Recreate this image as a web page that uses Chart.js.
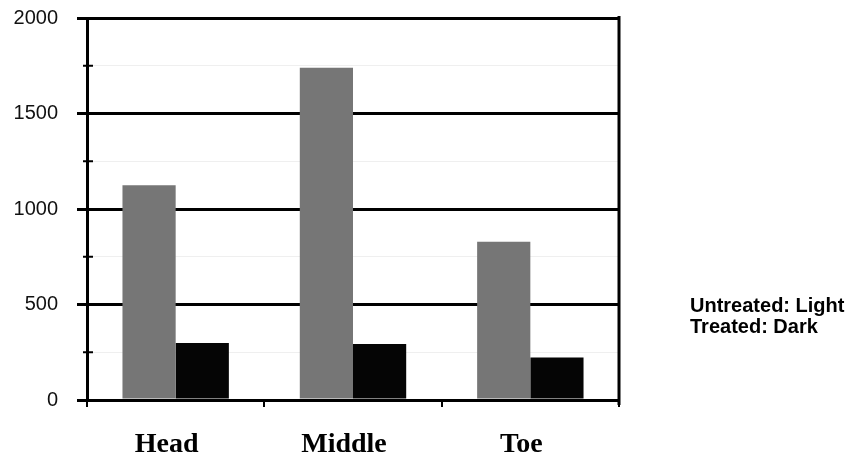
<!DOCTYPE html>
<html>
<head>
<meta charset="utf-8">
<script src="https://cdn.jsdelivr.net/npm/chart.js@4"></script>
<style>
  html, body { margin: 0; padding: 0; background: #fff; }
  #wrap { position: relative; width: 859px; height: 463px; }
  #legendText {
    position: absolute; left: 690px; top: 295px;
    font: bold 20px "Liberation Sans", Arial, sans-serif;
    line-height: 21px; color: #000; white-space: nowrap;
  }
</style>
</head>
<body>
<div id="wrap">
  <canvas id="c" width="859" height="463"></canvas>
  <div id="legendText"></div>
</div>
<script>
const categories = ['Head', 'Middle', 'Toe'];
const untreated = [1125, 1740, 828];
const treated = [298, 293, 222];
const yTickLabels = [0, 500, 1000, 1500, 2000];
const seriesNames = ['Untreated', 'Treated'];
const seriesShades = ['Light', 'Dark'];

document.getElementById('legendText').innerHTML =
  seriesNames.map((n, i) => n + ': ' + seriesShades[i]).join('<br>');

const isMajor = v => yTickLabels.includes(v);

const framePlugin = {
  id: 'frame',
  afterDraw(chart) {
    const { ctx, chartArea, scales } = chart;
    const y = scales.y;
    ctx.save();
    ctx.strokeStyle = '#000';
    ctx.lineWidth = 3;
    ctx.beginPath();
    ctx.moveTo(chartArea.right, chartArea.top - 2);
    ctx.lineTo(chartArea.right, chartArea.bottom + 5);
    ctx.stroke();
    ctx.lineWidth = 2;
    y.ticks.forEach(t => {
      if (!isMajor(t.value)) {
        const py = y.getPixelForValue(t.value);
        ctx.beginPath();
        ctx.moveTo(chartArea.left - 4, py);
        ctx.lineTo(chartArea.left + 6, py);
        ctx.stroke();
      }
    });
    ctx.restore();
  }
};

new Chart(document.getElementById('c'), {
  type: 'bar',
  data: {
    labels: categories,
    datasets: [
      { label: seriesNames[0], data: untreated, backgroundColor: '#767676', borderWidth: 0 },
      { label: seriesNames[1], data: treated, backgroundColor: '#050505', borderWidth: 0 }
    ]
  },
  options: {
    responsive: false,
    devicePixelRatio: 1,
    animation: false,
    datasets: { bar: { barPercentage: 1.0, categoryPercentage: 0.6 } },
    layout: { padding: { left: 13, right: 240, top: 18, bottom: 0 } },
    plugins: { legend: { display: false }, tooltip: { enabled: false } },
    scales: {
      x: {
        offset: true,
        afterFit(scale) { scale.height = 63; },
        grid: { offset: true, drawOnChartArea: false, color: '#000', lineWidth: 2, tickLength: 7 },
        border: { display: true, color: '#000', width: 3 },
        ticks: {
          color: '#000', labelOffset: -9, padding: 21,
          font: { family: '"Liberation Serif", "Times New Roman", serif', size: 28, weight: 'bold' }
        }
      },
      y: {
        min: 0, max: 2000,
        afterFit(scale) { scale.width = 74; scale.paddingTop = 0; scale.paddingBottom = 0; },
        afterBuildTicks(scale) {
          const t = [];
          for (let v = 0; v <= 2000; v += 250) t.push({ value: v });
          scale.ticks = t;
        },
        grid: {
          color: c => isMajor(c.tick.value) ? '#000' : '#efefef',
          lineWidth: c => isMajor(c.tick.value) ? 3 : 1,
          tickColor: c => isMajor(c.tick.value) ? '#000' : 'rgba(0,0,0,0)',
          tickLength: 10
        },
        border: { display: true, color: '#000', width: 3 },
        ticks: {
          color: '#111', padding: 19, autoSkip: false,
          callback: v => isMajor(v) ? String(v) : '',
          font: { family: '"Liberation Sans", Arial, sans-serif', size: 20 }
        }
      }
    }
  },
  plugins: [framePlugin]
});
</script>
</body>
</html>
